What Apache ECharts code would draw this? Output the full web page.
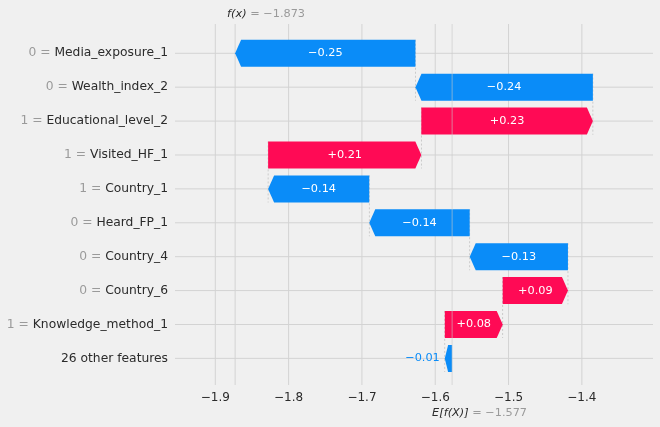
<!DOCTYPE html>
<html>
<head>
<meta charset="utf-8">
<script src="https://cdn.jsdelivr.net/npm/echarts@6/dist/echarts.min.js"></script>
<style>
  html, body { margin: 0; padding: 0; background: #f0f0f0; }
  #main { width: 660px; height: 427px; }
</style>
</head>
<body>
<div id="main"></div>
<script>
// data
const features = ['Media_exposure_1', 'Wealth_index_2', 'Educational_level_2', 'Visited_HF_1', 'Country_1',
  'Heard_FP_1', 'Country_4', 'Country_6', 'Knowledge_method_1', '26 other features']
const featureValues = ['0', '0', '1', '1', '1', '0', '0', '0', '1', '']
const shapValues = [-0.246, -0.242, 0.234, 0.209, -0.138, -0.137, -0.134, 0.089, 0.079, -0.010]
const baseValue = -1.577
const fxValue = -1.873
const xTicks = [-1.9, -1.8, -1.7, -1.6, -1.5, -1.4]

const BLUE = '#0a8cf8'
const RED = '#ff0a55'
const minus = s => String(s).replace('-', '\u2212')

// waterfall: start from E[f(X)] at the bottom row and walk up
let rows = []
let pos = baseValue
for (let i = shapValues.length - 1; i >= 0; i--) {
  rows[i] = [i, pos, pos + shapValues[i], shapValues[i]]
  pos += shapValues[i]
}
const rowIdx = features.map((f, i) => i)

let chart = echarts.init(document.getElementById('main'))

function renderBar (params, api) {
  let row = api.value(0)
  let start = api.value(1)
  let end = api.value(2)
  let v = api.value(3)
  let p0 = api.coord([start, row])
  let p1 = api.coord([end, row])
  let rowH = api.size([0, 1])[1]
  let h = 27
  let top = p0[1] - h / 2
  let bot = p0[1] + h / 2
  let len = Math.abs(p1[0] - p0[0])
  let head = Math.min(6, len * 0.45)
  let dir = v >= 0 ? 1 : -1
  let pts = [
    [p0[0], top],
    [p1[0] - dir * head, top],
    [p1[0], p0[1]],
    [p1[0] - dir * head, bot],
    [p0[0], bot]
  ]
  let color = v >= 0 ? RED : BLUE
  let txt = (v >= 0 ? '+' : '\u2212') + Math.abs(v).toFixed(2)
  let children = []
  if (row < features.length - 1) {
    // dashed connector down to the next row
    children.push({
      type: 'line',
      shape: { x1: p0[0], y1: p0[1] - rowH * 0.4, x2: p0[0], y2: p0[1] + rowH * 1.4 },
      style: { stroke: '#bbbbbb', lineWidth: 0.7, lineDash: [2, 2] },
      z2: 0
    })
  }
  children.push({ type: 'polygon', shape: { points: pts }, style: { fill: color }, z2: 1 })
  if (len > 40) {
    children.push({
      type: 'text',
      x: (p0[0] + p1[0]) / 2,
      y: p0[1],
      style: { text: txt, fill: '#fff', font: '11.3px "DejaVu Sans"', align: 'center', verticalAlign: 'middle' },
      z2: 2
    })
  } else {
    let xl = Math.min(p0[0], p1[0]) - 5
    children.push({
      type: 'text',
      x: dir < 0 ? xl : Math.max(p0[0], p1[0]) + 5,
      y: p0[1],
      style: { text: txt, fill: color, font: '11.3px "DejaVu Sans"', align: dir < 0 ? 'right' : 'left', verticalAlign: 'middle' },
      z2: 2
    })
  }
  return { type: 'group', children: children }
}

let option = {
  backgroundColor: '#f0f0f0',
  animation: false,
  grid: { left: 175, right: 7, top: 24, bottom: 42 },
  xAxis: {
    type: 'value',
    min: -1.955,
    max: -1.303,
    axisLine: { show: false },
    axisTick: { show: false },
    splitLine: { show: false },
    axisLabel: {
      customValues: xTicks,
      formatter: v => minus(v.toFixed(1)),
      color: '#2b2b2b',
      fontSize: 12,
      fontFamily: 'DejaVu Sans',
      margin: 7
    }
  },
  yAxis: {
    type: 'value',
    inverse: true,
    min: -0.864,
    max: 9.785,
    axisLine: { show: false },
    axisTick: { show: false },
    splitLine: { show: false },
    axisLabel: {
      customValues: rowIdx,
      margin: 7,
      formatter: v => {
        let i = Math.round(v)
        if (!featureValues[i]) return '{n|' + features[i] + '}'
        return '{g|' + featureValues[i] + ' = }{n|' + features[i] + '}'
      },
      rich: {
        g: { color: '#9a9a9a', fontSize: 12.3, fontFamily: 'DejaVu Sans' },
        n: { color: '#2b2b2b', fontSize: 12.3, fontFamily: 'DejaVu Sans' }
      }
    }
  },
  series: [
    {
      // vertical grid lines
      type: 'custom',
      silent: true,
      z: 1,
      data: xTicks.concat([fxValue]).map(x => [x]),
      renderItem: (params, api) => {
        let cs = params.coordSys
        let x = api.coord([api.value(0), 0])[0]
        return {
          type: 'line',
          shape: { x1: x, y1: cs.y, x2: x, y2: cs.y + cs.height },
          style: { stroke: '#d3d3d3', lineWidth: 1 }
        }
      }
    },
    {
      // horizontal grid lines
      type: 'custom',
      silent: true,
      z: 1,
      data: rowIdx.map(i => [i]),
      renderItem: (params, api) => {
        let cs = params.coordSys
        let y = api.coord([0, api.value(0)])[1]
        return {
          type: 'line',
          shape: { x1: cs.x, y1: y, x2: cs.x + cs.width, y2: y },
          style: { stroke: '#d3d3d3', lineWidth: 1 }
        }
      }
    },
    {
      type: 'custom',
      silent: true,
      z: 3,
      data: rows,
      renderItem: renderBar
    },
    {
      // f(x) and E[f(X)] markers, E line sits over the bars
      type: 'custom',
      silent: true,
      z: 5,
      data: [[fxValue, 0], [baseValue, 1]],
      renderItem: (params, api) => {
        let cs = params.coordSys
        let x = api.coord([api.value(0), 0])[0]
        let isBase = api.value(1) === 1
        let children = []
        if (isBase) {
          children.push({
            type: 'line',
            shape: { x1: x, y1: cs.y, x2: x, y2: cs.y + cs.height },
            style: { stroke: 'rgba(200,200,200,0.6)', lineWidth: 1 }
          })
          children.push({
            type: 'text',
            x: x - 20,
            y: cs.y + cs.height + 28,
            style: {
              text: '{a|E[f(X)]}{b| = ' + minus(baseValue.toFixed(3)) + '}',
              verticalAlign: 'middle',
              rich: {
                a: { fill: '#2b2b2b', font: 'italic 11.3px "DejaVu Sans"' },
                b: { fill: '#9a9a9a', font: '11.3px "DejaVu Sans"' }
              }
            }
          })
        } else {
          children.push({
            type: 'text',
            x: x - 8,
            y: cs.y - 10,
            style: {
              text: '{a|f(x)}{b| = ' + minus(fxValue.toFixed(3)) + '}',
              verticalAlign: 'middle',
              rich: {
                a: { fill: '#2b2b2b', font: 'italic 11.3px "DejaVu Sans"' },
                b: { fill: '#9a9a9a', font: '11.3px "DejaVu Sans"' }
              }
            }
          })
        }
        return { type: 'group', children: children }
      }
    }
  ]
}
chart.setOption(option)
</script>
</body>
</html>
